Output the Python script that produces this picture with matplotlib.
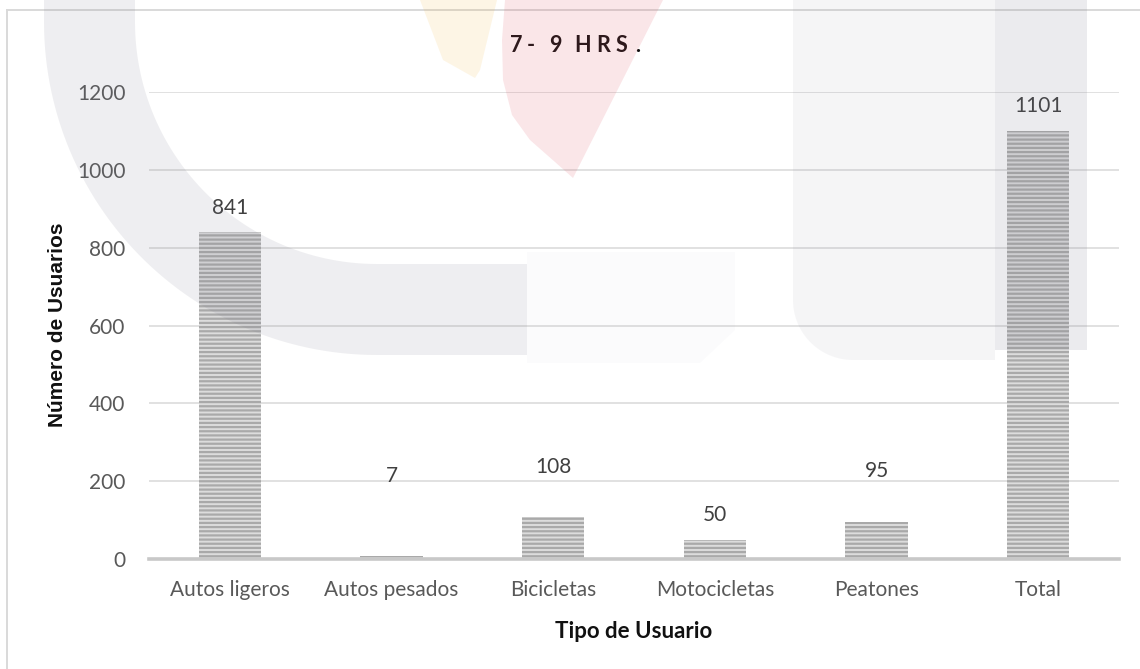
import matplotlib
matplotlib.use("Agg")
import matplotlib.pyplot as plt
import numpy as np
from matplotlib.patches import Polygon
from matplotlib.lines import Line2D

# datos
categorias = ["Autos ligeros", "Autos pesados", "Bicicletas", "Motocicletas", "Peatones", "Total"]
usuarios = [841, 7, 108, 50, 95, 1101]
# separación etiqueta-barra (puntos), como en el original de Excel
offset_etiquetas = [17, 58, 36, 18, 37, 18]

titulo = "7- 9 HRS."
eje_x = "Tipo de Usuario"
eje_y = "Número de Usuarios"
ticks_y = [0, 200, 400, 600, 800, 1000, 1200]

W, H = 1140, 669
plt.rcParams["hatch.linewidth"] = 1.6

fig = plt.figure(figsize=(W / 100, H / 100), dpi=100)
fig.patch.set_facecolor("white")


def px(x, y):
    # pixeles (origen arriba-izquierda) -> fracción de figura
    return (x / W, 1 - y / H)


ax = fig.add_axes([149 / W, 1 - 559 / H, (1119 - 149) / W, (559 - 92) / H])
ax.set_facecolor("none")

x = np.arange(len(categorias))
ax.bar(x, usuarios, width=0.385, color="#dcdcdc", edgecolor="#a9a9a9",
       linewidth=0, hatch="----", zorder=3)

for xi, v, off in zip(x, usuarios, offset_etiquetas):
    ax.annotate(str(v), (xi, v), xytext=(0, off), textcoords="offset points",
                ha="center", va="center", fontsize=15, color="#404040",
                family="Lato")

ax.set_xlim(-0.5, len(categorias) - 0.5)
ax.set_ylim(0, 1200)
ax.set_yticks(ticks_y)
ax.set_xticks(x)
ax.set_xticklabels(categorias)
ax.tick_params(axis="both", length=0, labelsize=15, labelcolor="#595959")
ax.tick_params(axis="y", pad=17)
ax.tick_params(axis="x", pad=15)
for lab in ax.get_xticklabels() + ax.get_yticklabels():
    lab.set_family("Lato")

ax.grid(axis="y", color="#d9d9d9", linewidth=1.1, zorder=0)
ax.set_axisbelow(True)
for s in ["top", "right", "left"]:
    ax.spines[s].set_visible(False)
ax.spines["bottom"].set_color("#c8c8c8")
ax.spines["bottom"].set_linewidth(2.6)
ax.spines["bottom"].set_zorder(4)

ax.set_xlabel(eje_x, fontsize=16, fontweight="bold", family="Lato", color="#111111",
              va="center")
ax.xaxis.set_label_coords(0.5, -(632 - 559) / (559 - 92))
fig.text(*px(58, 325), eje_y, rotation=90, ha="center", va="center",
         fontsize=15, fontweight="bold", family="Liberation Sans", color="#111111")

# título con letras espaciadas
pos_titulo = [516, 531, 555, 583, 603, 621, 638]
for ch, xp in zip([c for c in titulo if c != " "], pos_titulo):
    fig.text(*px(xp, 45), ch, ha="center", va="center", fontsize=15.5,
             fontweight="bold", family="Lato", color="#111111")

# borde del área del gráfico
fig.add_artist(Line2D([7 / W, 7 / W], [0, 1 - 10 / H], color="#d9d9d9", lw=1.4,
                      transform=fig.transFigure))
fig.add_artist(Line2D([7 / W, 1], [1 - 10 / H, 1 - 10 / H], color="#d9d9d9", lw=1.4,
                      transform=fig.transFigure))


# marca de agua (logo tenue de fondo)
def arco(cx, cy, r, a0, a1, n=60):
    t = np.linspace(np.radians(a0), np.radians(a1), n)
    return [(cx + r * np.cos(tt), cy + r * np.sin(tt)) for tt in t]


wm = dict(transform=fig.transFigure, zorder=10, linewidth=0)
gris = "#78788c"

ext = [(44, 0)] + arco(377, 22, 333, 180, 90) + [(527, 355), (527, 264)]
inn = arco(377, 22, 242, 90, 180) + [(135, 0)]
fig.add_artist(Polygon([px(a, b) for a, b in ext + inn], closed=True,
                       facecolor=gris, alpha=0.12, **wm))

fig.add_artist(Polygon([px(527, 252), px(735, 252), px(735, 330), px(700, 363), px(527, 363)],
                       closed=True, facecolor=gris, alpha=0.025, **wm))

der = [(793, 0), (995, 0), (995, 360)] + arco(853, 300, 60, 90, 180)
fig.add_artist(Polygon([px(a, b) for a, b in der], closed=True,
                       facecolor=gris, alpha=0.07, **wm))
fig.add_artist(Polygon([px(995, 0), px(1087, 0), px(1087, 350), px(995, 350)], closed=True,
                       facecolor=gris, alpha=0.14, **wm))

fig.add_artist(Polygon([px(420, 0), px(497, 0), px(480, 70), px(475, 78), px(443, 60)],
                       closed=True, facecolor="#f0b030", alpha=0.12, **wm))
fig.add_artist(Polygon([px(505, 0), px(663, 0), px(573, 178), px(555, 162), px(530, 140),
                        px(512, 115), px(503, 80), px(502, 40)], closed=True,
                       facecolor="#e05060", alpha=0.14, **wm))

fig.savefig("out.png", dpi=100)
